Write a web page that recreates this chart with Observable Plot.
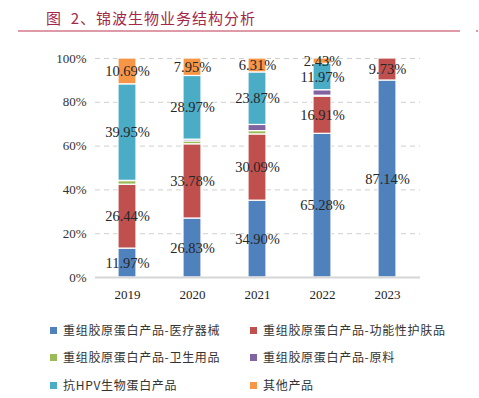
<!DOCTYPE html>
<html>
<head>
<meta charset="utf-8">
<script src="https://cdn.jsdelivr.net/npm/d3@7"></script>
<script src="https://cdn.jsdelivr.net/npm/@observablehq/plot@0.6"></script>
<style>
  html, body { margin: 0; padding: 0; background: #fff; }
  #wrap { position: relative; width: 479px; height: 398px; overflow: hidden; }
  #title { position: absolute; left: 46px; top: 8px; font-family: "Noto Sans CJK SC", sans-serif; font-size: 15px; letter-spacing: 1px; color: #A3284A; line-height: 20px; white-space: pre; }
  #rule { position: absolute; left: 18px; top: 30px; width: 442px; height: 1.5px; background: #DE9AA7; }
  #dot { position: absolute; left: 476px; top: 30px; width: 2px; height: 1.5px; background: #DE9AA7; }
  #chart { position: absolute; left: 0; top: 0; }
  .leg { position: absolute; font-family: "Noto Sans CJK SC", sans-serif; font-size: 12px; letter-spacing: 0.7px; color: #333; white-space: nowrap; line-height: 16px; }
  .leg i { position: absolute; left: -13px; top: 4.5px; width: 7px; height: 7px; }
</style>
</head>
<body>
<div id="wrap">
  <div id="chart"></div>
  <div id="title">图  2、锦波生物业务结构分析</div>
  <div id="rule"></div>
  <div id="dot"></div>
  <div id="legend"></div>
</div>
<script>
const years = ["2019", "2020", "2021", "2022", "2023"];
const seriesNames = [
  "重组胶原蛋白产品-医疗器械",
  "重组胶原蛋白产品-功能性护肤品",
  "重组胶原蛋白产品-卫生用品",
  "重组胶原蛋白产品-原料",
  "抗HPV生物蛋白产品",
  "其他产品"
];
const colors = ["#4F81BD", "#C0504D", "#9BBB59", "#8064A2", "#4BACC6", "#F79646"];
const medical  = [11.97, 26.83, 34.90, 65.28, 87.14];
const skincare = [26.44, 33.78, 30.09, 16.91, 9.73];
const hygiene  = [1.5, 1.3, 1.5, 0.4, 0];
const rawMat   = [0.1, 0.8, 2.8, 2.5, 0];
const hpv      = [39.95, 28.97, 23.87, 11.97, 0];
const other    = [10.69, 7.95, 6.31, 2.43, 0];
const labeled  = [true, true, false, false, true, true];
const yTicks = [0, 0.2, 0.4, 0.6, 0.8, 1];

const valueArrays = [medical, skincare, hygiene, rawMat, hpv, other];
const data = [];
years.forEach((yr, i) => {
  seriesNames.forEach((s, j) => {
    data.push({year: yr, series: s, value: valueArrays[j][i], labeled: labeled[j]});
  });
});

const stackOpts = {x: "year", y: "value", z: "series", offset: "normalize", order: seriesNames};

const chart = Plot.plot({
  width: 479,
  height: 310,
  marginTop: 58,
  marginBottom: 33,
  marginLeft: 95,
  marginRight: 59,
  style: {fontFamily: "'Liberation Serif', 'DejaVu Serif', serif", fontSize: "13px", color: "#333", background: "transparent"},
  x: {domain: years, paddingInner: 0.72, paddingOuter: 0.36, label: null},
  y: {domain: [0, 1], label: null},
  color: {domain: seriesNames, range: colors},
  marks: [
    Plot.gridY(yTicks, {stroke: "#d0d0d0", strokeOpacity: 1, strokeDasharray: "5,4", strokeWidth: 1}),
    Plot.axisY({ticks: yTicks, tickSize: 0, tickPadding: 9, tickFormat: d => Math.round(d * 100) + "%", fontSize: 13, fill: "#333", label: null}),
    Plot.axisX({tickSize: 0, tickPadding: 12, fontSize: 13, fill: "#222", label: null}),
    Plot.barY(data, Plot.stackY({...stackOpts, fill: "series", stroke: "white", strokeWidth: 1.2})),
    Plot.ruleY([0], {stroke: "#d6d6d6", strokeWidth: 2}),
    Plot.text(data, Plot.stackY({
      ...stackOpts,
      text: d => (d.labeled && d.value > 0) ? d.value.toFixed(2) + "%" : null,
      fill: "#262626",
      fontSize: 14.5,
      fontFamily: "'Liberation Serif', 'DejaVu Serif', serif"
    }))
  ]
});
document.getElementById("chart").appendChild(chart);

// Legend
const legend = document.getElementById("legend");
const colX = [63, 263];
const rowY = [322, 349, 377];
seriesNames.forEach((s, j) => {
  const el = document.createElement("div");
  el.className = "leg";
  el.style.left = colX[j % 2] + "px";
  el.style.top = rowY[Math.floor(j / 2)] + "px";
  const sw = document.createElement("i");
  sw.style.background = colors[j];
  el.appendChild(sw);
  el.appendChild(document.createTextNode(s));
  legend.appendChild(el);
});
</script>
</body>
</html>
